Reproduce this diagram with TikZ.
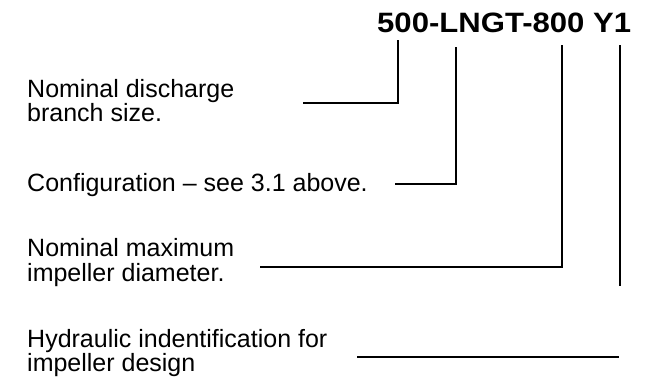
\documentclass[tikz,border=0pt]{standalone}
\usepackage{fontspec}
\setmainfont{Liberation Sans}[BoldFeatures={FakeStretch=1.11}]
\usepackage{tikz}
\usetikzlibrary{positioning}

\begin{document}
\begin{tikzpicture}[x=1pt,y=-1pt,lbl/.style={anchor=base west,inner sep=0pt,align=left,font=\fontsize{25}{24}\selectfont},lead/.style={line width=1.3pt,line join=miter}]
\useasboundingbox (0,0) rectangle (647,378);
\node[anchor=base west,inner sep=0pt,font=\fontsize{28}{30}\selectfont\bfseries] (code) at (377,32.5) {500-LNGT-800 Y1};
\node[lbl] (discharge) at (27,97) {Nominal discharge};
\node[lbl] (dischargeb) at (27,121) {branch size.};
\node[lbl] (config) at (27,191) {Configuration -- see 3.1 above.};
\node[lbl] (diameter) at (27,256.5) {Nominal maximum};
\node[lbl] (diameterb) at (27,281) {impeller diameter.};
\node[lbl] (hydraulic) at (27,347) {Hydraulic indentification for};
\node[lbl] (hydraulicb) at (27,371) {impeller design};
% leader lines from the code
\coordinate (t500) at (398,40);
\coordinate (tlngt) at (456,47);
\coordinate (t800) at (562,45);
\coordinate (ty1) at (620,45);
\coordinate (e500) at (303,103);
\coordinate (elngt) at (395,184);
\coordinate (e800) at (260,267);
\coordinate (ey1) at (620,286);
\coordinate (hy1a) at (357,357);
\coordinate (hy1b) at (619,357);
\draw[lead] (e500) -| (t500);
\draw[lead] (elngt) -| (tlngt);
\draw[lead] (e800) -| (t800);
\draw[lead] (ty1) -- (ey1);
\draw[lead] (hy1a) -- (hy1b);
\end{tikzpicture}
\end{document}
